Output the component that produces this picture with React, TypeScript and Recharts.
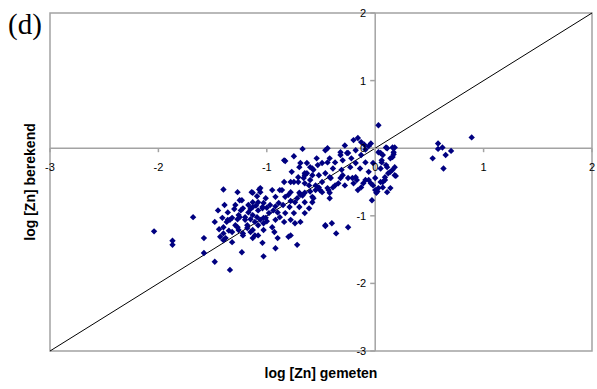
import { ScatterChart, Scatter, XAxis, YAxis, ReferenceLine, ReferenceArea } from 'recharts';

// log [Zn] gemeten (x) vs log [Zn] berekend (y)
const axisTicks = [-3, -2, -1, 0, 1, 2];
const axisMin = -3;
const axisMax = 2;

const outliers: [number, number][] = [
  [-2.04, -1.23], [-1.87, -1.37], [-1.87, -1.43], [-1.68, -1.02], [-1.58, -1.33], [-1.58, -1.55],
  [-1.48, -1.68], [-1.34, -1.8], [-1.23, -1.54], [-1.03, -1.6], [-0.92, -1.48], [-0.78, -1.29],
  [-0.72, -1.43], [-0.46, -1.15], [-0.4, -1.11], [-0.36, -1.26], [-0.25, -1.17], [-0.42, -0.74],
  [-0.03, -0.77], [0.02, -0.64], [0.03, 0.34], [0.18, 0.01], [0.17, -0.09], [0.16, -0.13],
  [0.14, -0.35], [0.19, -0.41], [0.53, -0.15], [0.58, -0.01], [0.58, 0.07], [0.62, 0.01],
  [0.65, -0.1], [0.7, -0.04], [0.63, -0.3], [0.89, 0.16],
];

const leftCluster: [number, number][] = [
  [-1.48, -1.09], [-1.4, -1.36], [-1.43, -1.31], [-1.32, -1.39], [-1.32, -1.24], [-1.38, -1.33],
  [-1.4, -0.61], [-1.27, -0.65], [-1.14, -0.65], [-1.07, -0.61], [-1.09, -0.71], [-1.25, -0.77],
  [-1.39, -0.84], [-1.45, -0.92], [-1.36, -0.95], [-1.29, -0.84], [-1.22, -0.89], [-1.17, -0.84],
  [-1.13, -0.87], [-1.08, -0.8], [-1.04, -0.89], [-1.41, -1.03], [-1.37, -1.09], [-1.32, -1.03],
  [-1.26, -0.99], [-1.2, -1.02], [-1.13, -0.99], [-1.09, -1.02], [-1.26, -1.21], [-1.18, -1.18],
  [-1.13, -1.21], [-1.08, -1.14], [-1.13, -1.33], [-1.22, -1.26], [-1.29, -1.14], [-1.4, -1.17],
  [-1.03, -1.03], [-1.36, -1.06], [-1.06, -0.59], [-1.13, -0.66], [-1.23, -0.77], [-1.13, -0.8],
  [-1.03, -0.81], [-1.25, -1.02], [-1.17, -0.95], [-1.08, -0.92], [-1.18, -1.14], [-1.11, -1.09],
  [-1.03, -1.11], [-1.11, -1.29], [-1.03, -1.21], [-1.06, -0.65], [-1.3, -0.9], [-1.24, -0.92],
  [-1.15, -0.9], [-1.1, -0.85], [-1.0, -0.88], [-1.34, -1.06], [-1.27, -1.05], [-1.2, -1.06],
  [-1.15, -1.05], [-1.06, -1.06], [-1.0, -1.08], [-1.44, -1.2], [-1.4, -1.26], [-1.35, -1.22],
  [-1.27, -1.17], [-1.22, -1.29], [-1.15, -1.24], [-1.08, -1.29], [-1.04, -1.4],
];

const midCluster: [number, number][] = [
  [-0.84, -0.18], [-0.7, -0.28], [-0.63, -0.22], [-0.58, -0.3], [-0.44, -0.21], [-0.77, -0.35],
  [-0.65, -0.4], [-0.58, -0.4], [-0.52, -0.4], [-0.46, -0.37], [-0.42, -0.43], [-0.84, -0.5],
  [-0.75, -0.5], [-0.65, -0.52], [-0.61, -0.55], [-0.49, -0.5], [-0.44, -0.59], [-0.55, -0.55],
  [-0.95, -0.62], [-0.86, -0.62], [-0.78, -0.65], [-0.7, -0.66], [-0.65, -0.66], [-0.58, -0.72],
  [-0.49, -0.65], [-0.42, -0.66], [-1.01, -0.74], [-0.92, -0.72], [-0.83, -0.72], [-0.74, -0.8],
  [-0.65, -0.8], [-0.58, -0.8], [-1.04, -0.87], [-0.97, -0.84], [-0.89, -0.81], [-0.79, -0.87],
  [-0.7, -0.87], [-0.61, -0.89], [-0.98, -0.96], [-0.9, -0.95], [-0.83, -0.96], [-0.75, -0.96],
  [-0.65, -0.96], [-1.01, -1.03], [-0.92, -1.06], [-0.84, -1.09], [-0.78, -1.06], [-0.69, -1.09],
  [-0.95, -1.17], [-0.74, -1.11], [-0.46, -1.14], [-0.93, -1.24], [-0.71, -0.43], [-0.65, -0.37],
  [-0.6, -0.47], [-0.8, -0.69], [-0.69, -0.69], [-0.94, -0.92], [-0.88, -1.02], [-0.67, -0.01],
  [-0.75, -0.12], [-0.83, -0.19], [-0.49, -0.22], [-0.69, -0.22], [-0.6, -0.28], [-0.63, -0.37],
  [-0.71, -0.5], [-0.66, -0.44], [-0.78, -0.5], [-0.88, -0.62], [-0.92, -0.86], [-0.85, -0.84],
  [-0.78, -0.78], [-0.72, -0.74], [-0.67, -0.7], [-0.6, -0.64], [-0.55, -0.62], [-0.52, -0.58],
  [-0.9, -1.33], [-0.8, -1.31],
];

const rightCluster: [number, number][] = [
  [-0.2, 0.12], [-0.16, 0.15], [-0.13, 0.09], [-0.04, 0.07], [-0.32, -0.06], [-0.25, -0.07],
  [-0.18, -0.03], [-0.13, -0.1], [0.03, -0.06], [0.1, 0.01], [0.17, -0.06], [0.07, -0.1],
  [0.14, -0.15], [-0.42, -0.15], [-0.37, -0.21], [-0.3, -0.18], [-0.22, -0.15], [-0.18, -0.22],
  [-0.09, -0.21], [0.06, -0.18], [0.1, -0.25], [-0.39, -0.3], [-0.31, -0.32], [-0.23, -0.28],
  [-0.14, -0.3], [-0.06, -0.35], [0.05, -0.3], [0.12, -0.37], [0.18, -0.4], [-0.41, -0.44],
  [-0.32, -0.44], [-0.25, -0.44], [-0.18, -0.43], [-0.09, -0.47], [0.0, -0.44], [0.09, -0.47],
  [-0.37, -0.55], [-0.28, -0.55], [-0.2, -0.52], [-0.13, -0.58], [-0.04, -0.52], [0.03, -0.59],
  [0.14, -0.59], [0.01, -0.66], [-0.16, -0.62], [-0.46, -0.03], [-0.54, -0.15], [-0.53, -0.25],
  [-0.57, -0.32], [-0.51, -0.62], [-0.57, -0.74], [0.07, -0.5], [0.11, -0.65], [0.18, -0.28],
  [-0.44, 0.0], [-0.02, -0.22], [0.06, -0.21], [0.11, -0.28], [0.16, -0.32], [0.05, -0.07],
  [0.11, 0.0], [0.16, 0.01], [-0.3, -0.4], [-0.21, -0.44], [-0.17, -0.47], [-0.11, -0.52],
  [-0.06, -0.47], [-0.02, -0.55], [0.0, -0.62], [-0.39, -0.58], [-0.34, -0.52], [-0.43, -0.62],
  [0.05, -0.5], [0.09, -0.43], [0.07, -0.58], [-0.26, -0.07], [-0.32, -0.1], [-0.09, -0.02],
  [-0.06, 0.03], [-0.1, 0.05], [-0.28, 0.04],
];

const points = [...outliers, ...leftCluster, ...midCluster, ...rightCluster].map(([x, y]) => ({ x, y }));

const W = 597;
const H = 389;
const margin = { top: 13, right: 5, bottom: 0, left: 0 };
const yAxisWidth = 50;
const xAxisHeight = 38;
const plotLeft = margin.left + yAxisWidth;
const plotWidth = W - plotLeft - margin.right;
const plotHeight = H - margin.top - margin.bottom - xAxisHeight;
const zeroX = plotLeft + (plotWidth * (0 - axisMin)) / (axisMax - axisMin);
const zeroY = margin.top + (plotHeight * (axisMax - 0)) / (axisMax - axisMin);

const axisGray = '#a3a3a3';
const font = '"Liberation Sans", Arial, sans-serif';

function XTick(props: any) {
  const { x, payload } = props;
  return (
    <g>
      <line x1={x} x2={x} y1={zeroY} y2={zeroY + 4} stroke={axisGray} strokeWidth={1.5} />
      <text x={x} y={zeroY + 23} textAnchor="middle" fontSize={11} fontFamily={font} fill="#000">
        {payload.value}
      </text>
    </g>
  );
}

function YTick(props: any) {
  const { y, payload } = props;
  return (
    <g>
      <line x1={zeroX - 5} x2={zeroX} y1={y} y2={y} stroke={axisGray} strokeWidth={1.5} />
      <text x={zeroX - 9} y={y + 4} textAnchor="end" fontSize={11} fontFamily={font} fill="#000">
        {payload.value}
      </text>
    </g>
  );
}

function Diamond(props: any) {
  const { cx, cy } = props;
  const r = 3.2;
  return <path d={`M${cx},${cy - r}L${cx + r},${cy}L${cx},${cy + r}L${cx - r},${cy}Z`} fill="#000080" />;
}

export default function App() {
  return (
    <div style={{ position: 'absolute', left: 0, top: 0, width: W, height: H, background: '#fff' }}>
      <div
        style={{
          position: 'absolute',
          left: 8,
          top: 10,
          fontFamily: '"Liberation Serif", "Times New Roman", serif',
          fontSize: 29,
          lineHeight: '29px',
          color: '#000',
        }}
      >
        (d)
      </div>
      <ScatterChart width={W} height={H} margin={margin}>
        <XAxis
          type="number"
          dataKey="x"
          domain={[axisMin, axisMax]}
          ticks={axisTicks}
          allowDataOverflow
          height={xAxisHeight}
          axisLine={false}
          tickLine={false}
          tick={<XTick />}
          label={{
            value: 'log [Zn] gemeten',
            position: 'insideBottom',
            offset: 11,
            style: { fontFamily: font, fontSize: 14, fontWeight: 'bold', fill: '#000' },
          }}
        />
        <YAxis
          type="number"
          dataKey="y"
          domain={[axisMin, axisMax]}
          ticks={axisTicks}
          allowDataOverflow
          width={yAxisWidth}
          axisLine={false}
          tickLine={false}
          tick={<YTick />}
          label={{
            value: 'log [Zn] berekend',
            position: 'insideLeft',
            angle: -90,
            offset: 30,
            style: { fontFamily: font, fontSize: 14, fontWeight: 'bold', fill: '#000', textAnchor: 'middle' },
          }}
        />
        <ReferenceArea x1={axisMin} x2={axisMax} y1={axisMin} y2={axisMax} fill="none" stroke={axisGray} strokeWidth={1.5} />
        <ReferenceLine y={0} stroke={axisGray} strokeWidth={1.5} />
        <ReferenceLine x={0} stroke={axisGray} strokeWidth={1.5} />
        <Scatter data={points} shape={<Diamond />} isAnimationActive={false} />
        <ReferenceLine
          segment={[
            { x: axisMin, y: axisMin },
            { x: axisMax, y: axisMax },
          ]}
          stroke="#000"
          strokeWidth={1}
        />
      </ScatterChart>
    </div>
  );
}
